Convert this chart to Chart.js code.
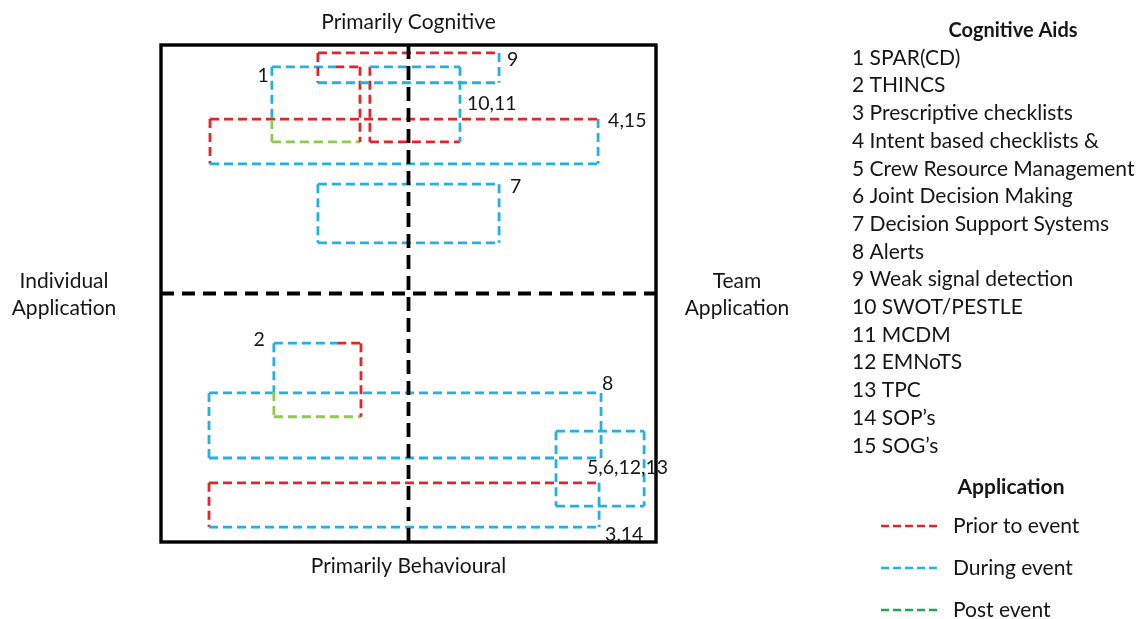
<!DOCTYPE html>
<html>
<head>
<meta charset="utf-8">
<script src="https://cdn.jsdelivr.net/npm/chart.js@4.4.1/dist/chart.umd.min.js"></script>
<style>
html,body{margin:0;padding:0;background:#ffffff;overflow:hidden}
#wrap{position:relative;width:1141px;height:619px}
</style>
</head>
<body>
<div id="wrap"><canvas id="c" width="1141" height="619"></canvas></div>
<script>
// ---------------- DATA ----------------
// Axis range: x = Individual (-50) .. Team (+50); y = Behavioural (-50) .. Cognitive (+50)
const axisMin = -50;
const axisMax = 50;

// Each cognitive-aid box (label, extents in chart units)
const boxLabels = ['9', '1', '10,11', '4,15', '7', '2', '8', '5,6,12,13', '3,14'];
const boxLeft   = [-18.3, -27.6,  -7.8, -40.1, -18.3, -27.2, -40.3, 29.8, -40.3];
const boxRight  = [ 18.3,  -9.8,  10.4,  38.3,  18.3,  -9.6,  38.9, 47.6,  38.5];
const boxTop    = [ 48.4,  45.6,  45.6,  35.1,  22.0, -10.0, -20.0, -27.7, -38.1];
const boxBottom = [ 42.4,  30.5,  30.5,  26.1,  10.2, -24.8, -33.1, -42.8, -47.0];

// Application phase of each edge ('a|b' = edge changes phase at the split value)
const edgeTop    = ['prior', 'during|prior', 'during', 'prior', 'during', 'during|prior', 'during', 'during', 'prior'];
const topSplit   = [null, -14.8, null, null, null, -14.4, null, null, null];
const edgeRight  = ['during', 'prior', 'during', 'during', 'during', 'prior', 'during', 'during', 'during'];
const edgeBottom = ['during', 'post', 'prior', 'during', 'during', 'post', 'during', 'during', 'during'];
const edgeLeft   = ['prior', 'during|post', 'prior', 'prior', 'during', 'during|post', 'during', 'during', 'prior'];
const leftSplit  = [null, 34.9, null, null, null, -19.8, null, null, null];

// Legend / text content
const aidNames = ['1 SPAR(CD)', '2 THINCS', '3 Prescriptive checklists', '4 Intent based checklists &',
  '5 Crew Resource Management', '6 Joint Decision Making', '7 Decision Support Systems', '8 Alerts',
  '9 Weak signal detection', '10 SWOT/PESTLE', '11 MCDM', '12 EMNoTS', '13 TPC', '14 SOP\u2019s', '15 SOG\u2019s'];
const phaseKeys  = ['prior', 'during', 'post'];
const phaseNames = ['Prior to event', 'During event', 'Post event'];
const aidsTitle = 'Cognitive Aids';
const phaseTitle = 'Application';
const topTitle = 'Primarily Cognitive';
const bottomTitle = 'Primarily Behavioural';
const leftTitle = ['Individual', 'Application'];
const rightTitle = ['Team', 'Application'];

// ---------------- STYLE ----------------
const phaseColors = { prior: '#E3242B', during: '#23B1E3', post: '#8FCB4B' };
const legendColors = { prior: '#E3242B', during: '#23B1E3', post: '#1AAA50' };
const FONT = 'Lato, "Open Sans", sans-serif';
const TEXT = '#161616';
// label anchor: corner of the box and pixel offset
const labelAnchor = [
  { c: 'tr', dx: 8,   dy: 7,  align: 'left' },
  { c: 'tl', dx: -3,  dy: 9,  align: 'right' },
  { c: 'mr', dx: 7,   dy: -1, align: 'left' },
  { c: 'tr', dx: 10,  dy: 2,  align: 'left' },
  { c: 'tr', dx: 11,  dy: 3,  align: 'left' },
  { c: 'tl', dx: -9,  dy: -3, align: 'right' },
  { c: 'tr', dx: 1,   dy: -9, align: 'left' },
  { c: 'ml', dx: 31,  dy: -1, align: 'left' },
  { c: 'br', dx: 6,   dy: 8,  align: 'left' }
];

// ---------------- BUILD DATASETS ----------------
const datasets = [];
function seg(phase, x1, y1, x2, y2) {
  datasets.push({
    data: [{ x: x1, y: y1 }, { x: x2, y: y2 }],
    showLine: true,
    borderColor: phaseColors[phase],
    borderWidth: 2.8,
    borderDash: [9, 5],
    pointRadius: 0,
    pointHoverRadius: 0,
    fill: false,
    clip: false
  });
}
// quadrant divider lines (first => drawn on top)
datasets.push({ data: [{ x: 0, y: axisMax }, { x: 0, y: axisMin }], showLine: true, borderColor: '#000', borderWidth: 3.8, borderDash: [14, 7], pointRadius: 0, clip: false });
datasets.push({ data: [{ x: axisMin, y: 0 }, { x: axisMax, y: 0 }], showLine: true, borderColor: '#000', borderWidth: 3.8, borderDash: [13, 8], pointRadius: 0, clip: false });

for (let i = 0; i < boxLabels.length; i++) {
  const L = boxLeft[i], R = boxRight[i], T = boxTop[i], B = boxBottom[i];
  if (edgeTop[i].includes('|')) {
    const [a, b] = edgeTop[i].split('|');
    seg(a, L, T, topSplit[i], T); seg(b, topSplit[i], T, R, T);
  } else seg(edgeTop[i], L, T, R, T);
  seg(edgeRight[i], R, T, R, B);
  seg(edgeBottom[i], L, B, R, B);
  if (edgeLeft[i].includes('|')) {
    const [a, b] = edgeLeft[i].split('|');
    seg(a, L, T, L, leftSplit[i]); seg(b, L, leftSplit[i], L, B);
  } else seg(edgeLeft[i], L, T, L, B);
}

// ---------------- ANNOTATION PLUGIN ----------------
const annot = {
  id: 'annot',
  afterDatasetsDraw(chart) {
    const ctx = chart.ctx;
    const a = chart.chartArea;
    const xs = chart.scales.x, ys = chart.scales.y;
    ctx.save();
    ctx.strokeStyle = '#000';
    ctx.lineWidth = 3.4;
    ctx.setLineDash([]);
    ctx.strokeRect(a.left, a.top, a.right - a.left, a.bottom - a.top);

    ctx.fillStyle = TEXT;
    ctx.textBaseline = 'middle';
    ctx.font = '19.5px ' + FONT;
    for (let i = 0; i < boxLabels.length; i++) {
      const an = labelAnchor[i];
      const L = xs.getPixelForValue(boxLeft[i]), R = xs.getPixelForValue(boxRight[i]);
      const T = ys.getPixelForValue(boxTop[i]), B = ys.getPixelForValue(boxBottom[i]);
      let px, py;
      if (an.c === 'tr') { px = R; py = T; }
      else if (an.c === 'tl') { px = L; py = T; }
      else if (an.c === 'br') { px = R; py = B; }
      else if (an.c === 'mr') { px = R; py = (T + B) / 2; }
      else { px = L; py = (T + B) / 2; }
      ctx.textAlign = an.align;
      ctx.fillText(boxLabels[i], px + an.dx, py + an.dy);
    }

    ctx.font = '21px ' + FONT;
    ctx.textAlign = 'center';
    const cx = xs.getPixelForValue(0);
    const cy = ys.getPixelForValue(0);
    ctx.fillText(topTitle, cx, a.top - 23);
    ctx.fillText(bottomTitle, cx, a.bottom + 24);
    ctx.fillText(leftTitle[0], 64, cy - 12);
    ctx.fillText(leftTitle[1], 64, cy + 15);
    ctx.fillText(rightTitle[0], 737, cy - 12);
    ctx.fillText(rightTitle[1], 737, cy + 15);

    ctx.font = 'bold 20px ' + FONT;
    ctx.fillText(aidsTitle, 1013, 31);
    ctx.font = '21px ' + FONT;
    ctx.textAlign = 'left';
    for (let k = 0; k < aidNames.length; k++) {
      ctx.fillText(aidNames[k], 852, 58 + k * 27.7);
    }
    ctx.font = 'bold 21px ' + FONT;
    ctx.textAlign = 'center';
    ctx.fillText(phaseTitle, 1011, 487);
    ctx.font = '21px ' + FONT;
    ctx.textAlign = 'left';
    for (let k = 0; k < phaseKeys.length; k++) {
      const y = 526 + k * 42;
      ctx.strokeStyle = legendColors[phaseKeys[k]];
      ctx.lineWidth = 2.6;
      ctx.setLineDash([8, 4]);
      ctx.beginPath();
      ctx.moveTo(881, y);
      ctx.lineTo(941, y);
      ctx.stroke();
      ctx.fillText(phaseNames[k], 953, y);
    }
    ctx.restore();
  }
};

new Chart(document.getElementById('c'), {
  type: 'scatter',
  data: { datasets },
  options: {
    responsive: false,
    animation: false,
    events: [],
    layout: { padding: { left: 161, right: 485, top: 45, bottom: 77 } },
    scales: {
      x: { type: 'linear', min: axisMin, max: axisMax, display: false },
      y: { type: 'linear', min: axisMin, max: axisMax, display: false }
    },
    plugins: { legend: { display: false }, tooltip: { enabled: false } }
  },
  plugins: [annot]
});
</script>
</body>
</html>
